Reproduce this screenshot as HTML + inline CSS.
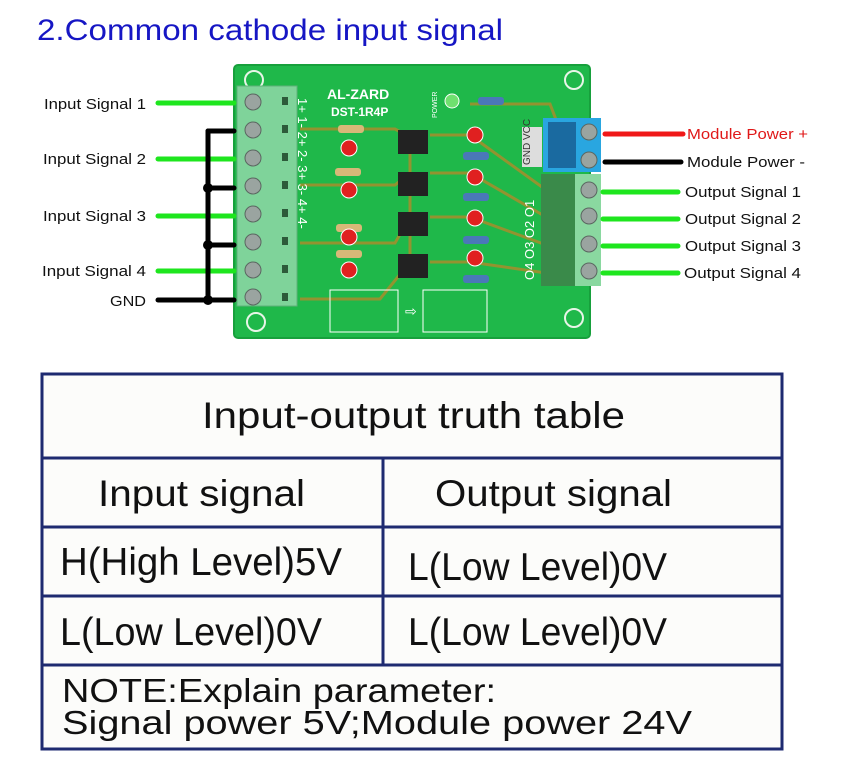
<!DOCTYPE html>
<html><head><meta charset="utf-8"><style>
html,body{margin:0;padding:0;background:#fff;}
svg{display:block;}
</style></head><body>
<svg width="853" height="761" viewBox="0 0 853 761" xmlns="http://www.w3.org/2000/svg" font-family="Liberation Sans, sans-serif">
<rect width="853" height="761" fill="#fff"/>
<text x="37" y="40" font-size="30" fill="#1616c4" textLength="466" lengthAdjust="spacingAndGlyphs">2.Common cathode input signal</text>

<rect x="234" y="65" width="356" height="273" rx="4" fill="#1fb84a"/>
<rect x="234" y="65" width="356" height="273" rx="4" fill="none" stroke="#17a03c" stroke-width="2"/>
<circle cx="254" cy="80" r="9" fill="none" stroke="#e8f5e8" stroke-width="2"/>
<circle cx="574" cy="80" r="9" fill="none" stroke="#e8f5e8" stroke-width="2"/>
<circle cx="256" cy="322" r="9" fill="none" stroke="#e8f5e8" stroke-width="2"/>
<circle cx="574" cy="318" r="9" fill="none" stroke="#e8f5e8" stroke-width="2"/>
<g stroke="#b08a2a" stroke-width="3" fill="none" opacity="0.8">
<path d="M300 129 H395 L410 137"/><path d="M300 185 H395 L410 173"/><path d="M300 243 H395 L410 217"/><path d="M300 299 H380 L410 262"/>
<path d="M430 135 H470 L560 200"/><path d="M430 173 H470 L560 225"/><path d="M430 217 H470 L560 250"/><path d="M430 262 H470 L560 275"/>
<path d="M410 145 V260"/><path d="M470 104 H550 L560 130"/>
</g>
<text x="327" y="99" font-size="14" font-weight="bold" fill="#fff">AL-ZARD</text>
<text x="331" y="116" font-size="12" font-weight="bold" fill="#fff">DST-1R4P</text>
<text x="437" y="118" font-size="7" fill="#fff" transform="rotate(-90 437 118)">POWER</text>
<circle cx="452" cy="101" r="7" fill="#6fe06f" stroke="#fff"/>
<rect x="478" y="97" width="26" height="8" rx="3" fill="#4a78b8"/>
<rect x="237" y="86" width="60" height="220" fill="#7fd39a" stroke="#5fb07a"/>
<g fill="#9aa4a0" stroke="#5a6660">
<circle cx="253" cy="102" r="8"/><circle cx="253" cy="130" r="8"/><circle cx="253" cy="158" r="8"/><circle cx="253" cy="186" r="8"/>
<circle cx="253" cy="214" r="8"/><circle cx="253" cy="242" r="8"/><circle cx="253" cy="270" r="8"/><circle cx="253" cy="297" r="8"/>
</g>
<g fill="#2d5a3a"><rect x="282" y="97" width="6" height="8"/><rect x="282" y="125" width="6" height="8"/><rect x="282" y="153" width="6" height="8"/><rect x="282" y="181" width="6" height="8"/><rect x="282" y="209" width="6" height="8"/><rect x="282" y="237" width="6" height="8"/><rect x="282" y="265" width="6" height="8"/><rect x="282" y="293" width="6" height="8"/></g>
<text x="298" y="98" font-size="13" fill="#fff" transform="rotate(90 298 98)">1+ 1- 2+ 2- 3+ 3- 4+ 4-</text>
<g fill="#d8b878"><rect x="338" y="125" width="26" height="8" rx="3"/><rect x="335" y="168" width="26" height="8" rx="3"/><rect x="336" y="224" width="26" height="8" rx="3"/><rect x="336" y="250" width="26" height="8" rx="3"/></g>
<g fill="#e02020" stroke="#fff"><circle cx="349" cy="148" r="8"/><circle cx="349" cy="190" r="8"/><circle cx="349" cy="237" r="8"/><circle cx="349" cy="270" r="8"/>
<circle cx="475" cy="135" r="8"/><circle cx="475" cy="177" r="8"/><circle cx="475" cy="218" r="8"/><circle cx="475" cy="258" r="8"/></g>
<g fill="#4a78b8"><rect x="463" y="152" width="26" height="8" rx="3"/><rect x="463" y="193" width="26" height="8" rx="3"/><rect x="463" y="236" width="26" height="8" rx="3"/><rect x="463" y="275" width="26" height="8" rx="3"/></g>
<g fill="#222"><rect x="398" y="130" width="30" height="24"/><rect x="398" y="172" width="30" height="24"/><rect x="398" y="212" width="30" height="24"/><rect x="398" y="254" width="30" height="24"/></g>
<g fill="none" stroke="#fff"><rect x="330" y="290" width="68" height="42"/><rect x="423" y="290" width="64" height="42"/></g>
<text x="405" y="316" font-size="14" fill="#fff">⇨</text>
<rect x="522" y="127" width="20" height="40" fill="#ddd"/>
<text x="530" y="165" font-size="10" fill="#333" transform="rotate(-90 530 165)">GND VCC</text>
<text x="534" y="280" font-size="13" fill="#fff" transform="rotate(-90 534 280)">O4 O3 O2 O1</text>
<rect x="543" y="118" width="58" height="54" fill="#29a6e0"/>
<rect x="548" y="122" width="28" height="46" fill="#1a6aa0"/>
<rect x="541" y="174" width="60" height="112" fill="#8ad8a0"/>
<rect x="541" y="174" width="34" height="112" fill="#3a8a4a"/>
<g fill="#9aa4a0" stroke="#5a6660">
<circle cx="589" cy="132" r="8"/><circle cx="589" cy="160" r="8"/><circle cx="589" cy="190" r="8"/><circle cx="589" cy="216" r="8"/><circle cx="589" cy="244" r="8"/><circle cx="589" cy="271" r="8"/>
</g>

<g stroke-linecap="round" stroke-width="5">
<g stroke="#1ee61e"><line x1="158" y1="103" x2="234" y2="103"/><line x1="158" y1="159" x2="234" y2="159"/><line x1="158" y1="216" x2="234" y2="216"/><line x1="158" y1="271" x2="234" y2="271"/></g>
<g stroke="#000"><line x1="208" y1="131" x2="208" y2="300"/><line x1="208" y1="131" x2="234" y2="131"/><line x1="208" y1="188" x2="234" y2="188"/><line x1="208" y1="245" x2="234" y2="245"/><line x1="158" y1="300" x2="234" y2="300"/></g>
<line x1="605" y1="134" x2="683" y2="134" stroke="#f01818"/>
<line x1="605" y1="162" x2="681" y2="162" stroke="#000"/>
<g stroke="#1ee61e"><line x1="603" y1="192" x2="678" y2="192"/><line x1="603" y1="219" x2="678" y2="219"/><line x1="603" y1="246" x2="678" y2="246"/><line x1="603" y1="273" x2="678" y2="273"/></g>
</g>
<g fill="#000"><circle cx="208" cy="188" r="5"/><circle cx="208" cy="245" r="5"/><circle cx="208" cy="300" r="5"/></g>
<g font-size="15" fill="#111" lengthAdjust="spacingAndGlyphs">
<text x="44" y="109" textLength="102" lengthAdjust="spacingAndGlyphs">Input Signal 1</text>
<text x="43" y="164" textLength="103" lengthAdjust="spacingAndGlyphs">Input Signal 2</text>
<text x="43" y="221" textLength="103" lengthAdjust="spacingAndGlyphs">Input Signal 3</text>
<text x="42" y="276" textLength="104" lengthAdjust="spacingAndGlyphs">Input Signal 4</text>
<text x="110" y="306" textLength="36" lengthAdjust="spacingAndGlyphs">GND</text>
</g>
<g font-size="15" fill="#111">
<text x="687" y="139" fill="#e01818" textLength="121" lengthAdjust="spacingAndGlyphs">Module Power +</text>
<text x="687" y="167" textLength="118" lengthAdjust="spacingAndGlyphs">Module Power -</text>
<text x="685" y="197" textLength="116" lengthAdjust="spacingAndGlyphs">Output Signal 1</text>
<text x="685" y="224" textLength="116" lengthAdjust="spacingAndGlyphs">Output Signal 2</text>
<text x="685" y="251" textLength="116" lengthAdjust="spacingAndGlyphs">Output Signal 3</text>
<text x="684" y="278" textLength="117" lengthAdjust="spacingAndGlyphs">Output Signal 4</text>
</g>

<rect x="42" y="374" width="740" height="375" fill="#fcfcfa" stroke="#1e2a70" stroke-width="3"/>
<g stroke="#1e2a70" stroke-width="3">
<line x1="42" y1="458" x2="782" y2="458"/><line x1="42" y1="527" x2="782" y2="527"/><line x1="42" y1="596" x2="782" y2="596"/><line x1="42" y1="665" x2="782" y2="665"/>
<line x1="383" y1="458" x2="383" y2="665"/>
</g>
<g fill="#111">
<text x="202" y="428" font-size="37" textLength="423" lengthAdjust="spacingAndGlyphs">Input-output truth table</text>
<text x="98" y="506" font-size="37" textLength="207" lengthAdjust="spacingAndGlyphs">Input signal</text>
<text x="435" y="506" font-size="37" textLength="237" lengthAdjust="spacingAndGlyphs">Output signal</text>
<text x="60" y="575" font-size="39" textLength="282" lengthAdjust="spacingAndGlyphs">H(High Level)5V</text>
<text x="408" y="580" font-size="39" textLength="259" lengthAdjust="spacingAndGlyphs">L(Low Level)0V</text>
<text x="60" y="645" font-size="39" textLength="262" lengthAdjust="spacingAndGlyphs">L(Low Level)0V</text>
<text x="408" y="645" font-size="39" textLength="259" lengthAdjust="spacingAndGlyphs">L(Low Level)0V</text>
<text x="62" y="702" font-size="33" textLength="434" lengthAdjust="spacingAndGlyphs">NOTE:Explain parameter:</text>
<text x="62" y="734" font-size="33" textLength="630" lengthAdjust="spacingAndGlyphs">Signal power 5V;Module power 24V</text>
</g>
</svg>
</body></html>
